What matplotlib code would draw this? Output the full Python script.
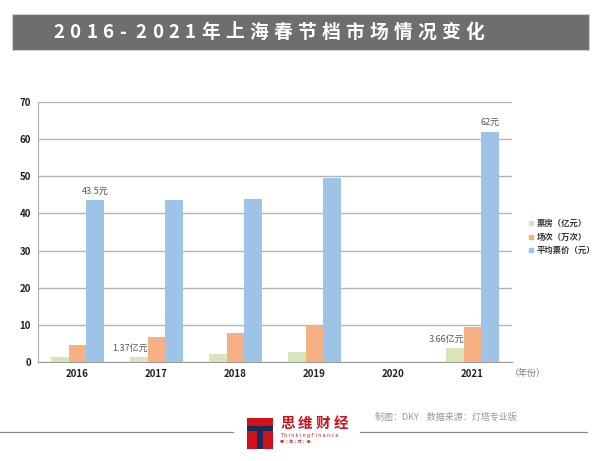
import matplotlib
matplotlib.use("Agg")
import matplotlib.pyplot as plt
import numpy as np
from matplotlib.patches import Rectangle
from matplotlib.lines import Line2D

plt.rcParams['font.family'] = ['Noto Sans CJK SC', 'DejaVu Sans']

years = ["2016", "2017", "2018", "2019", "2020", "2021"]
box_office = [1.4, 1.37, 2.2, 2.6, 0, 3.66]      # 票房（亿元）
screenings = [4.6, 6.7, 7.8, 10.0, 0, 9.35]      # 场次（万次）
avg_price = [43.5, 43.7, 44.0, 49.6, 0, 62]      # 平均票价（元）
series_names = ["票房（亿元）", "场次（万次）", "平均票价（元）"]
COLORS = ["#d8e5bb", "#f5b183", "#9dc3e6"]

W, H = 600, 461
fig = plt.figure(figsize=(6, 4.61), dpi=100)
fig.patch.set_facecolor("white")

# ── header band ──────────────────────────────────────────
fig.patches.append(Rectangle((12 / W, 1 - 50 / H), 577 / W, 36 / H,
                             transform=fig.transFigure, facecolor="#6e6e6e",
                             edgecolor="#cfcfcf", linewidth=0.8))
title = "2016-2021年上海春节档市场情况变化"
x = 53
for ch in title:
    fig.text(x / W, 1 - 32 / H, ch, color="white", fontsize=13.5,
             fontweight="bold", ha="left", va="center")
    x += 16.5 if ord(ch) < 128 else 24

# ── chart ────────────────────────────────────────────────
ax = fig.add_axes([38 / W, 1 - 362 / H, 474 / W, 260 / H])
idx = np.arange(len(years))
bw = 0.22
for i, (vals, c) in enumerate(zip([box_office, screenings, avg_price], COLORS)):
    ax.bar(idx + (i - 1) * bw, vals, width=bw, color=c, label=series_names[i], zorder=3)

ax.set_xlim(-0.5, len(years) - 0.5)
ax.set_ylim(0, 70)
ax.set_yticks(range(0, 71, 10))
ax.set_xticks(idx)
ax.set_xticklabels(years)
ax.grid(axis="y", color="#b3b3b3", linewidth=1, zorder=0)
for sp in ["top", "right"]:
    ax.spines[sp].set_visible(False)
ax.spines["left"].set_color("#b3b3b3")
ax.spines["bottom"].set_color("#9a9a9a")
ax.tick_params(length=0, labelsize=7, colors="#222222", pad=5)
for t in ax.get_xticklabels() + ax.get_yticklabels():
    t.set_fontweight("bold")

# data labels
lab_col = "#555555"
ax.text(idx[0] + bw, avg_price[0] + 1.2, "43.5元", ha="center", va="bottom",
        fontsize=6.5, color=lab_col)
ax.text(idx[5] + bw, avg_price[5] + 1.2, "62元", ha="center", va="bottom",
        fontsize=6.5, color=lab_col)
ax.text(idx[1] - bw + bw / 2, box_office[1] + 1.2, "1.37亿元", ha="right",
        va="bottom", fontsize=6.5, color=lab_col)
ax.text(idx[5] - bw + bw / 2, box_office[5] + 1.2, "3.66亿元", ha="right",
        va="bottom", fontsize=6.5, color=lab_col)

fig.text(510 / W, 1 - 373 / H, "（年份）", fontsize=6.5, color="#777777",
         ha="left", va="center")

handles = [Line2D([0], [0], marker="s", linestyle="none", markersize=3.5,
                  markerfacecolor=c, markeredgecolor=c) for c in COLORS]
leg = fig.legend(handles, series_names, loc="center left",
                 bbox_to_anchor=(528 / W, 1 - 237 / H), frameon=False,
                 fontsize=6, handlelength=0.7, handletextpad=0.3,
                 labelspacing=0.5, borderaxespad=0, borderpad=0)
for t in leg.get_texts():
    t.set_fontweight("bold")
    t.set_color("#333333")

# ── footer ───────────────────────────────────────────────
fig.add_artist(Line2D([0, 233 / W], [1 - 432 / H] * 2, color="#888888", lw=0.9))
fig.add_artist(Line2D([360 / W, 587 / W], [1 - 432 / H] * 2, color="#888888", lw=0.9))
fig.patches.append(Rectangle((247 / W, 1 - 449 / H), 26 / W, 31 / H,
                             transform=fig.transFigure, facecolor="#d0111b"))
fig.patches.append(Rectangle((247 / W, 1 - 431 / H), 26 / W, 5 / H,
                             transform=fig.transFigure, facecolor="#1c2a5a"))
fig.patches.append(Rectangle((257 / W, 1 - 449 / H), 6 / W, 18 / H,
                             transform=fig.transFigure, facecolor="#1c2a5a"))
x = 280
for ch in "思维财经":
    fig.text(x / W, 1 - 423 / H, ch, fontsize=10.5, fontweight="bold",
             color="#c8161d", ha="left", va="center")
    x += 18
fig.text(280 / W, 1 - 435 / H, "T h i n k i n g F i n a n c e", fontsize=3.3,
         color="#c8161d", ha="left", va="center", family="DejaVu Sans")
fig.text(280 / W, 1 - 441 / H, "思  |  维  |  财  |  经", fontsize=3,
         color="#c8161d", ha="left", va="center")
fig.text(375 / W, 1 - 417 / H, "制图：DKY    数据来源：灯塔专业版", fontsize=6.5,
         color="#999999", ha="left", va="center")

fig.savefig("out.png", dpi=100, facecolor="white")
